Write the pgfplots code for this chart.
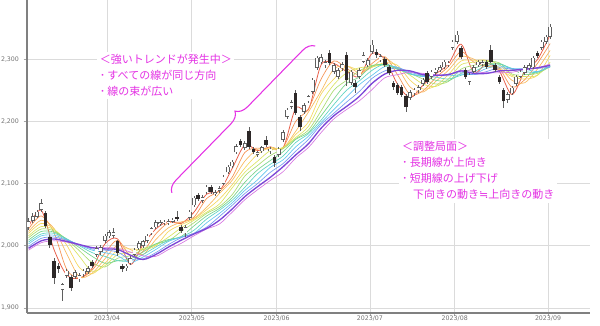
\documentclass[border=0pt]{standalone}
\usepackage{fontspec}
\setmainfont{DejaVu Sans}
\newfontfamily\jp{Noto Sans CJK JP}
\usepackage{pgfplots}
\pgfplotsset{compat=1.18}
\usepackage{pgfplotstable}
\usetikzlibrary{decorations.pathreplacing}

\definecolor{c1}{RGB}{232,95,75}
\definecolor{c2}{RGB}{245,145,80}
\definecolor{c3}{RGB}{248,185,95}
\definecolor{c4}{RGB}{245,215,95}
\definecolor{c5}{RGB}{220,228,100}
\definecolor{c6}{RGB}{170,220,115}
\definecolor{c7}{RGB}{120,212,140}
\definecolor{c8}{RGB}{95,212,195}
\definecolor{c9}{RGB}{100,198,238}
\definecolor{c10}{RGB}{115,155,240}
\definecolor{c11}{RGB}{125,70,215}
\definecolor{c12}{RGB}{215,120,225}
\definecolor{jpmag}{RGB}{228,50,228}
\definecolor{cdark}{RGB}{45,40,40}
\definecolor{cline}{RGB}{95,95,95}

\pgfplotstableread{
k m3 m5 m7 m9 m11 m13 m15 m17 m19 m21 m23 m25
-19 2031 2027 2023 2020 2016 2013 2009 2006 2003 1999 1996 1993
-16 2057 2048 2041 2036 2031 2027 2023 2019 2016 2012 2008 2005
-13 1994 2021 2028 2027 2026 2024 2022 2020 2017 2014 2011 2008
-10 1953 1962 1987 2001 2008 2010 2011 2011 2010 2009 2007 2006
-7 1948 1948 1950 1965 1983 1992 1997 2000 2001 2002 2002 2001
-4 1964 1961 1956 1955 1959 1973 1983 1989 1993 1995 1997 1997
-1 2003 1988 1979 1972 1968 1966 1972 1983 1989 1993 1995 1997
2 2011 2009 2001 1993 1986 1980 1976 1976 1984 1990 1994 1996
5 1970 1984 1994 1995 1989 1984 1979 1976 1973 1978 1985 1990
8 2002 1991 1986 1994 1996 1994 1990 1986 1982 1979 1978 1984
11 2027 2019 2010 2000 2001 2003 2003 1998 1994 1989 1986 1983
14 2039 2037 2029 2023 2014 2008 2010 2009 2007 2002 1998 1994
17 2036 2038 2038 2034 2029 2023 2015 2014 2014 2013 2009 2004
20 2054 2046 2044 2043 2041 2037 2032 2025 2020 2020 2019 2016
23 2083 2076 2062 2058 2054 2052 2048 2043 2037 2030 2028 2027
26 2088 2088 2084 2075 2067 2063 2060 2057 2052 2047 2041 2035
29 2124 2110 2105 2098 2093 2082 2077 2073 2069 2065 2059 2054
32 2162 2150 2136 2125 2118 2112 2102 2094 2089 2084 2079 2074
35 2153 2157 2155 2147 2136 2129 2122 2116 2106 2100 2095 2090
38 2159 2155 2157 2158 2153 2145 2137 2131 2126 2118 2110 2105
41 2157 2158 2157 2156 2158 2156 2151 2144 2138 2132 2127 2119
44 2221 2200 2184 2179 2174 2172 2171 2166 2159 2152 2146 2141
47 2219 2220 2215 2199 2192 2186 2182 2180 2176 2171 2164 2158
50 2291 2268 2249 2244 2230 2217 2209 2202 2198 2195 2189 2182
53 2293 2297 2284 2268 2259 2250 2236 2227 2219 2213 2209 2204
56 2280 2285 2289 2288 2278 2266 2261 2250 2239 2231 2224 2219
59 2272 2275 2278 2282 2286 2281 2271 2265 2259 2248 2240 2233
62 2309 2293 2287 2287 2288 2290 2289 2282 2274 2269 2261 2251
65 2300 2304 2301 2294 2291 2290 2291 2292 2288 2281 2276 2270
68 2260 2275 2286 2290 2286 2284 2284 2285 2287 2286 2282 2275
71 2238 2243 2255 2266 2274 2277 2276 2276 2277 2279 2281 2279
74 2258 2249 2247 2252 2260 2268 2273 2272 2272 2274 2275 2277
77 2276 2270 2264 2257 2256 2260 2266 2271 2274 2273 2274 2275
80 2292 2288 2282 2275 2268 2264 2265 2268 2273 2276 2275 2275
83 2324 2312 2304 2297 2291 2284 2277 2274 2275 2278 2281 2282
86 2278 2295 2300 2298 2295 2290 2285 2280 2276 2275 2277 2280
89 2293 2288 2288 2298 2298 2296 2292 2289 2285 2280 2277 2278
92 2281 2285 2287 2284 2291 2294 2293 2292 2289 2286 2281 2278
95 2243 2255 2266 2272 2274 2276 2284 2285 2285 2284 2282 2279
98 2280 2267 2262 2268 2272 2275 2275 2280 2284 2284 2284 2283
101 2299 2293 2284 2274 2274 2277 2279 2279 2280 2285 2286 2286
104 2339 2325 2314 2306 2295 2288 2288 2289 2289 2287 2290 2292
}\matab

\pgfplotstableread{
k o h l c
-19 2030 2044 2026 2040
-18 2040 2052 2036 2048
-17 2047 2058 2044 2055
-16 2058 2076 2055 2068
-11 1929 1941 1912 1938
-10 1952 1963 1948 1960
-8 1950 1961 1946 1958
-7 1946 1956 1942 1953
-6 1954 1963 1950 1960
-5 1958 1967 1955 1964
-3 1986 2000 1982 1996
-2 1990 2002 1986 1998
-1 2008 2019 2004 2016
0 2015 2025 2012 2022
1 2016 2028 2013 2022
4 1964 1971 1960 1968
5 1972 1983 1969 1980
6 1986 1997 1983 1994
7 1996 2007 1993 2004
8 2000 2010 1997 2007
9 2008 2019 2005 2016
10 2020 2031 2017 2028
11 2030 2041 2027 2038
12 2035 2041 2032 2038
13 2036 2042 2033 2039
14 2037 2043 2034 2040
15 2039 2045 2036 2042
18 2020 2034 2014 2030
19 2045 2058 2042 2055
20 2065 2080 2062 2077
22 2072 2081 2069 2078
23 2086 2098 2083 2095
25 2083 2089 2080 2086
26 2088 2096 2085 2093
27 2100 2114 2097 2111
28 2118 2130 2115 2127
29 2128 2138 2125 2135
30 2150 2163 2147 2160
32 2157 2168 2154 2165
35 2146 2153 2142 2150
36 2152 2161 2149 2158
38 2152 2159 2148 2156
40 2146 2159 2142 2156
41 2170 2186 2167 2183
42 2207 2222 2204 2219
43 2223 2234 2220 2231
46 2215 2229 2212 2226
47 2232 2243 2229 2240
48 2247 2270 2244 2267
49 2286 2305 2283 2302
50 2295 2308 2292 2303
51 2290 2299 2286 2295
53 2280 2293 2276 2290
54 2272 2285 2268 2282
55 2285 2296 2281 2292
57 2262 2283 2258 2280
59 2272 2285 2268 2282
60 2296 2312 2293 2306
61 2290 2301 2287 2298
62 2312 2330 2309 2323
64 2298 2308 2295 2305
71 2238 2250 2234 2247
72 2245 2254 2241 2251
73 2250 2258 2246 2255
74 2260 2270 2256 2267
76 2272 2283 2268 2280
77 2278 2286 2275 2283
78 2282 2290 2279 2287
79 2287 2299 2284 2296
80 2290 2297 2287 2294
81 2318 2331 2315 2328
82 2328 2345 2325 2339
85 2264 2278 2258 2275
86 2280 2290 2277 2287
87 2290 2299 2287 2296
88 2292 2298 2289 2295
94 2235 2247 2230 2244
95 2245 2257 2242 2254
96 2260 2275 2257 2272
97 2272 2283 2269 2280
98 2278 2290 2275 2287
99 2285 2293 2282 2290
100 2287 2305 2284 2302
102 2318 2331 2315 2328
103 2328 2339 2325 2336
104 2336 2357 2333 2352
}\uptab

\pgfplotstableread{
k o h l c
-15 2052 2056 2028 2032
-14 2014 2018 1996 2002
-13 1976 1980 1938 1948
-12 1968 1972 1956 1962
-9 1950 1953 1928 1932
-4 1974 1977 1965 1968
2 2008 2010 1984 1988
3 1968 1971 1958 1962
16 2047 2056 2040 2043
17 2030 2033 2020 2024
21 2082 2085 2072 2075
24 2094 2097 2083 2086
31 2168 2171 2159 2162
33 2185 2191 2155 2159
34 2155 2158 2147 2151
37 2170 2176 2159 2162
39 2143 2146 2126 2133
44 2246 2251 2210 2213
45 2207 2210 2184 2191
52 2310 2314 2290 2294
56 2306 2311 2256 2267
58 2262 2266 2245 2255
63 2312 2316 2302 2306
65 2300 2303 2287 2290
66 2287 2290 2275 2278
67 2262 2265 2251 2255
68 2259 2262 2242 2246
69 2255 2258 2239 2243
70 2241 2244 2215 2223
75 2278 2281 2260 2264
83 2318 2321 2300 2304
84 2283 2286 2268 2272
89 2296 2299 2284 2287
90 2315 2322 2293 2296
91 2290 2293 2279 2282
92 2272 2275 2260 2264
93 2251 2254 2222 2232
101 2310 2313 2302 2305
}\downtab

\pgfplotsset{
  candle/.style={draw=none, mark=none, error bars/.cd, y dir=plus, y explicit, error mark=none},
}

\begin{document}
\begin{tikzpicture}
\begin{axis}[
  name=ax, at={(0,0)}, anchor=south west,
  scale only axis, width=422.25pt, height=234.75pt,
  xmin=-19.37, xmax=113.4, ymin=1892, ymax=2395,
  axis x line*=bottom, axis y line*=left,
  axis line style={draw=black!50, line width=0.8pt},
  grid=major, major grid style={draw=black!14, line width=0.6pt},
  xtick={-0.5,19.5,39.5,61.5,81.5,103.5},
  xticklabels={2023/04,2023/05,2023/06,2023/07,2023/08,2023/09},
  ytick={1900,2000,2100,2200,2300},
  yticklabels={{1,900},{2,000},{2,100},{2,200},{2,300}},
  tick align=outside, major tick length=2.5pt,
  tick style={draw=black!35, line width=0.5pt},
  tick label style={font=\fontsize{4.7}{5}\selectfont, text=black!55},
  xticklabel style={inner sep=0.6pt, yshift=1pt},
]
\addplot[c1, line width=0.6pt, smooth, tension=0.5] table[x=k,y=m3] {\matab};
\addplot[c2, line width=0.5pt, smooth, tension=0.5] table[x=k,y=m5] {\matab};
\addplot[c3, line width=0.5pt, smooth, tension=0.5] table[x=k,y=m7] {\matab};
\addplot[c4, line width=0.5pt, smooth, tension=0.5] table[x=k,y=m9] {\matab};
\addplot[c5, line width=0.5pt, smooth, tension=0.5] table[x=k,y=m11] {\matab};
\addplot[c6, line width=0.5pt, smooth, tension=0.5] table[x=k,y=m13] {\matab};
\addplot[c7, line width=0.5pt, smooth, tension=0.5] table[x=k,y=m15] {\matab};
\addplot[c8, line width=0.5pt, smooth, tension=0.5] table[x=k,y=m17] {\matab};
\addplot[c9, line width=0.5pt, smooth, tension=0.5] table[x=k,y=m19] {\matab};
\addplot[c10, line width=0.5pt, smooth, tension=0.5] table[x=k,y=m21] {\matab};
\addplot[c12, line width=0.5pt, smooth, tension=0.5] table[x=k,y=m25] {\matab};
\addplot[c11, line width=1.0pt, smooth, tension=0.5] table[x=k,y=m23] {\matab};

% wicks
\addplot[draw=none, mark=none, error bars/.cd, y dir=both, y explicit, error mark=none,
  error bar style={line width=0.5pt, draw=cline}]
  table[x=k, y=c, y error plus expr=\thisrow{h}-\thisrow{c}, y error minus expr=\thisrow{c}-\thisrow{l}] {\uptab};
\addplot[draw=none, mark=none, error bars/.cd, y dir=both, y explicit, error mark=none,
  error bar style={line width=0.5pt, draw=cline}]
  table[x=k, y=c, y error plus expr=\thisrow{h}-\thisrow{c}, y error minus expr=\thisrow{c}-\thisrow{l}] {\downtab};
% down bodies
\addplot[candle, error bar style={line width=2.6pt, draw=cdark}]
  table[x=k, y=c, y error plus expr=\thisrow{o}-\thisrow{c}] {\downtab};
% up bodies (outline then white)
\addplot[candle, error bar style={line width=2.8pt, draw=cline}]
  table[x=k, y=o, y error plus expr=\thisrow{c}-\thisrow{o}] {\uptab};
\addplot[candle, error bar style={line width=1.9pt, draw=white, shorten <=0.45pt, shorten >=0.45pt}]
  table[x=k, y=o, y error plus expr=\thisrow{c}-\thisrow{o}] {\uptab};

\draw[draw=jpmag, line width=0.8pt, decorate, decoration={brace, amplitude=9pt}]
  (axis cs:14.8,2085) -- (axis cs:48.6,2321);

\node[anchor=north west, align=left, inner sep=2pt, fill=white, text=jpmag,
  font=\jp\fontsize{8.25}{12}\selectfont] at (axis cs:-2.9,2312)
  {＜強いトレンドが発生中＞\\･\hspace{0.2em}すべての線が同じ方向\\･\hspace{0.2em}線の束が広い};
\node[anchor=north west, align=left, inner sep=2pt, fill=white, text=jpmag,
  font=\jp\fontsize{8.25}{12}\selectfont] at (axis cs:68.4,2172)
  {＜調整局面＞\\･\hspace{0.2em}長期線が上向き\\･\hspace{0.2em}短期線の上げ下げ\\\hspace*{1em}下向きの動き{\rmfamily ≒}上向きの動き};
\end{axis}
\pgfresetboundingbox
\path[use as bounding box] ([xshift=-20.25pt,yshift=-9pt]ax.south west) rectangle ([xshift=7.5pt]ax.north east);
\end{tikzpicture}
\end{document}
